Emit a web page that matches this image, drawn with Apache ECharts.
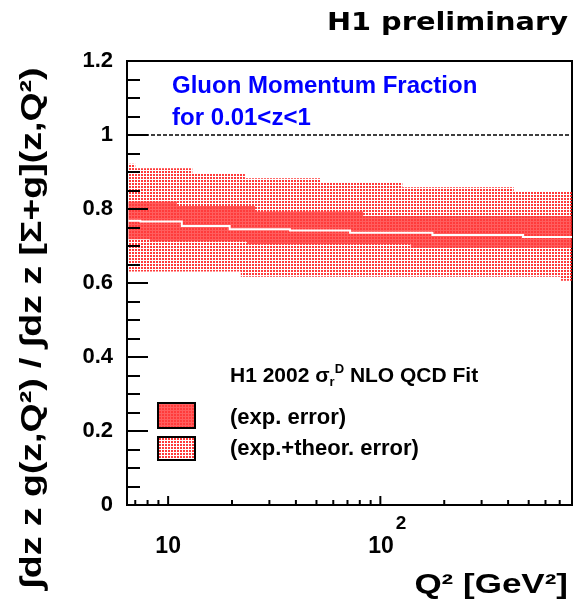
<!DOCTYPE html>
<html>
<head>
<meta charset="utf-8">
<script src="https://cdn.jsdelivr.net/npm/echarts@6/dist/echarts.min.js"></script>
<style>
  html, body { margin: 0; padding: 0; background: #fff; }
  #chart { width: 580px; height: 603px; }
</style>
</head>
<body>
<div id="chart"></div>
<script>
// Q² range of the plot (GeV²)
const Q2_MIN = 6.4;
const Q2_MAX = 800;

// Step-wise bands: bin edges in Q² and the value inside each bin
const outerHiQ = [6.5, 7.0, 13, 23, 52, 127, 425, 800];
const outerHiV = [0.922, 0.910, 0.896, 0.883, 0.871, 0.859, 0.847];
const outerLoQ = [6.5, 22, 710, 800];
const outerLoV = [0.631, 0.617, 0.606];

const innerHiQ = [6.5, 11, 25.7, 83, 800];
const innerHiV = [0.820, 0.808, 0.793, 0.781];
const innerLoQ = [6.5, 8.2, 23.5, 139, 800];
const innerLoV = [0.718, 0.712, 0.705, 0.695];

const centralQ = [6.5, 7.4, 11.6, 19.5, 37.5, 72, 176, 470, 800];
const centralV = [0.768, 0.766, 0.754, 0.745, 0.742, 0.736, 0.730, 0.724];

// momentum sum rule reference level
const unityLevel = 1;

// x axis tick positions (GeV²)
const xMajorTicks = [10, 100];
const xMinorTicks = [7, 8, 9, 20, 30, 40, 50, 60, 70, 80, 90, 200, 300, 400, 500, 600, 700];

const FONT = '"Liberation Sans", Arial, Helvetica, sans-serif';
const WIDE = '"DejaVu Sans", "Liberation Sans", sans-serif';

// small repeating fill tiles for the hatched error bands
function makeTile(size, cells, color) {
  const c = document.createElement('canvas');
  c.width = size; c.height = size;
  const ctx = c.getContext('2d');
  ctx.fillStyle = color;
  cells.forEach(([x, y, w, h]) => ctx.fillRect(x, y, w, h));
  return c;
}
// sparse dot grid for exp.+theor., extra dots in the gaps for exp. only
const outerTile = makeTile(3, [[0, 0, 2, 2]], 'rgba(255,25,25,0.85)');
const innerTile = makeTile(3, [[2, 0, 1, 3], [0, 2, 2, 1]], 'rgba(255,25,25,0.7)');
const outerFill = { image: outerTile, repeat: 'repeat' };
const innerFill = { image: innerTile, repeat: 'repeat' };

function stepPoints(q, v) {
  const pts = [];
  for (let i = 0; i < v.length; i++) {
    pts.push([q[i], v[i]]);
    pts.push([q[i + 1], v[i]]);
  }
  return pts;
}
function bandPoints(hiQ, hiV, loQ, loV) {
  return stepPoints(hiQ, hiV).concat(stepPoints(loQ, loV).reverse());
}

function polygonSeries(name, pts, fill, z) {
  return {
    name, type: 'custom', coordinateSystem: 'cartesian2d', z, silent: true,
    data: [pts[0]],
    renderItem: (params, api) => ({
      type: 'polygon',
      shape: { points: pts.map(p => api.coord(p)) },
      style: { fill: fill, stroke: null }
    })
  };
}

const outerBand = bandPoints(outerHiQ, outerHiV, outerLoQ, outerLoV);
const innerBand = bandPoints(innerHiQ, innerHiV, innerLoQ, innerLoV);
const centralLine = stepPoints(centralQ, centralV);

const tickData = xMajorTicks.map(q => [q, 0, 1]).concat(xMinorTicks.map(q => [q, 0, 0]));

const chart = echarts.init(document.getElementById('chart'), null, { renderer: 'canvas' });

chart.setOption({
  animation: false,
  backgroundColor: '#fff',
  grid: {
    left: 127, top: 61, right: 8, bottom: 98,
    show: true, borderColor: '#000', borderWidth: 2, backgroundColor: 'transparent'
  },
  xAxis: {
    type: 'log', logBase: 10, min: Q2_MIN, max: Q2_MAX,
    axisLine: { lineStyle: { color: '#000', width: 2 } },
    axisTick: { show: false },
    minorTick: { show: false },
    splitLine: { show: false },
    axisLabel: {
      showMinLabel: false, showMaxLabel: false,
      margin: 9,
      formatter: v => {
        const e = Math.round(Math.log10(v));
        return e === 1 ? '{b|10}' : '{p|10}{s|' + e + '}';
      },
      rich: {
        b: { fontFamily: FONT, fontWeight: 'bold', fontSize: 23, color: '#000', verticalAlign: 'bottom', lineHeight: 44 },
        p: { fontFamily: FONT, fontWeight: 'bold', fontSize: 23, color: '#000', verticalAlign: 'bottom', lineHeight: 44, padding: [0, 0, 0, 14] },
        s: { fontFamily: FONT, fontWeight: 'bold', fontSize: 19, color: '#000', verticalAlign: 'top', lineHeight: 40, padding: [0, 0, 0, 2] }
      }
    }
  },
  yAxis: {
    type: 'value', min: 0, max: 1.2, interval: 0.2, z: 5,
    axisLine: { show: true, lineStyle: { color: '#000', width: 2 } },
    axisTick: { inside: true, length: 21, lineStyle: { color: '#000', width: 2 } },
    minorTick: { show: true, splitNumber: 4, length: 13, lineStyle: { color: '#000', width: 2 } },
    splitLine: { show: false },
    minorSplitLine: { show: false },
    axisLabel: { color: '#000', fontFamily: FONT, fontWeight: 'bold', fontSize: 22, margin: 14 }
  },
  series: [
    polygonSeries('exp.+theor. error', outerBand, outerFill, 2),
    polygonSeries('exp. error', innerBand, innerFill, 3),
    {
      name: 'central', type: 'custom', coordinateSystem: 'cartesian2d', z: 4, silent: true,
      data: [centralLine[0]],
      renderItem: (params, api) => ({
        type: 'polyline',
        shape: { points: centralLine.map(p => api.coord(p)) },
        style: { stroke: '#fff', lineWidth: 2, fill: null }
      })
    },
    {
      name: 'unity', type: 'line', z: 4, silent: true, symbol: 'none',
      data: [[Q2_MIN, unityLevel], [Q2_MAX, unityLevel]],
      lineStyle: { color: '#000', width: 1.5, type: [4, 2] }
    },
    {
      name: 'xticks', type: 'custom', coordinateSystem: 'cartesian2d', z: 6, silent: true,
      clip: false,
      data: tickData,
      renderItem: (params, api) => {
        const p = api.coord([api.value(0), api.value(1)]);
        const len = api.value(2) ? 9 : 5;
        return {
          type: 'line',
          shape: { x1: p[0], y1: p[1], x2: p[0], y2: p[1] - len },
          style: { stroke: '#000', lineWidth: 2 }
        };
      }
    }
  ],
  graphic: [
    {
      type: 'text', x: 568, y: 24, scaleX: 1.2,
      style: {
        text: 'H1 preliminary', font: 'bold 24px ' + WIDE, fill: '#000',
        textAlign: 'right', align: 'right', textVerticalAlign: 'middle', verticalAlign: 'middle'
      }
    },
    {
      type: 'text', x: 172, y: 86,
      style: {
        text: 'Gluon Momentum Fraction', font: 'bold 24px ' + FONT, fill: '#0000ff',
        textAlign: 'left', align: 'left', textVerticalAlign: 'middle', verticalAlign: 'middle'
      }
    },
    {
      type: 'text', x: 172, y: 118,
      style: {
        text: 'for 0.01<z<1', font: 'bold 24px ' + FONT, fill: '#0000ff',
        textAlign: 'left', align: 'left', textVerticalAlign: 'middle', verticalAlign: 'middle'
      }
    },
    {
      type: 'text', x: 230, y: 376,
      style: {
        text: 'H1 2002 σ{sub|r}{sup|D} NLO QCD Fit', font: 'bold 21px ' + FONT, fill: '#000',
        textAlign: 'left', align: 'left', textVerticalAlign: 'middle', verticalAlign: 'middle',
        rich: {
          sub: { fontFamily: FONT, fontWeight: 'bold', fontSize: 13, verticalAlign: 'bottom', lineHeight: 26 },
          sup: { fontFamily: FONT, fontWeight: 'bold', fontSize: 13, verticalAlign: 'top', lineHeight: 26 }
        }
      }
    },
    {
      type: 'rect', shape: { x: 158, y: 403, width: 37, height: 25 },
      style: { fill: outerFill, stroke: null }
    },
    {
      type: 'rect', shape: { x: 158, y: 403, width: 37, height: 25 },
      style: { fill: innerFill, stroke: '#000', lineWidth: 2 }
    },
    {
      type: 'rect', shape: { x: 158, y: 437, width: 37, height: 23 },
      style: { fill: outerFill, stroke: '#000', lineWidth: 2 }
    },
    {
      type: 'text', x: 230, y: 418,
      style: {
        text: '(exp. error)', font: 'bold 22px ' + FONT, fill: '#000',
        textAlign: 'left', align: 'left', textVerticalAlign: 'middle', verticalAlign: 'middle'
      }
    },
    {
      type: 'text', x: 230, y: 449,
      style: {
        text: '(exp.+theor. error)', font: 'bold 22px ' + FONT, fill: '#000',
        textAlign: 'left', align: 'left', textVerticalAlign: 'middle', verticalAlign: 'middle'
      }
    },
    {
      type: 'text', x: 33, y: 328, rotation: Math.PI / 2, scaleX: 1.25,
      style: {
        text: '∫dz z g(z,Q²) / ∫dz z [Σ+g](z,Q²)', font: 'bold 30px ' + FONT, fill: '#000',
        textAlign: 'center', align: 'center', textVerticalAlign: 'middle', verticalAlign: 'middle'
      }
    },
    {
      type: 'text', x: 568, y: 585, scaleX: 1.25,
      style: {
        text: 'Q² [GeV²]', font: 'bold 28px ' + FONT, fill: '#000',
        textAlign: 'right', align: 'right', textVerticalAlign: 'middle', verticalAlign: 'middle'
      }
    }
  ]
});
</script>
</body>
</html>
